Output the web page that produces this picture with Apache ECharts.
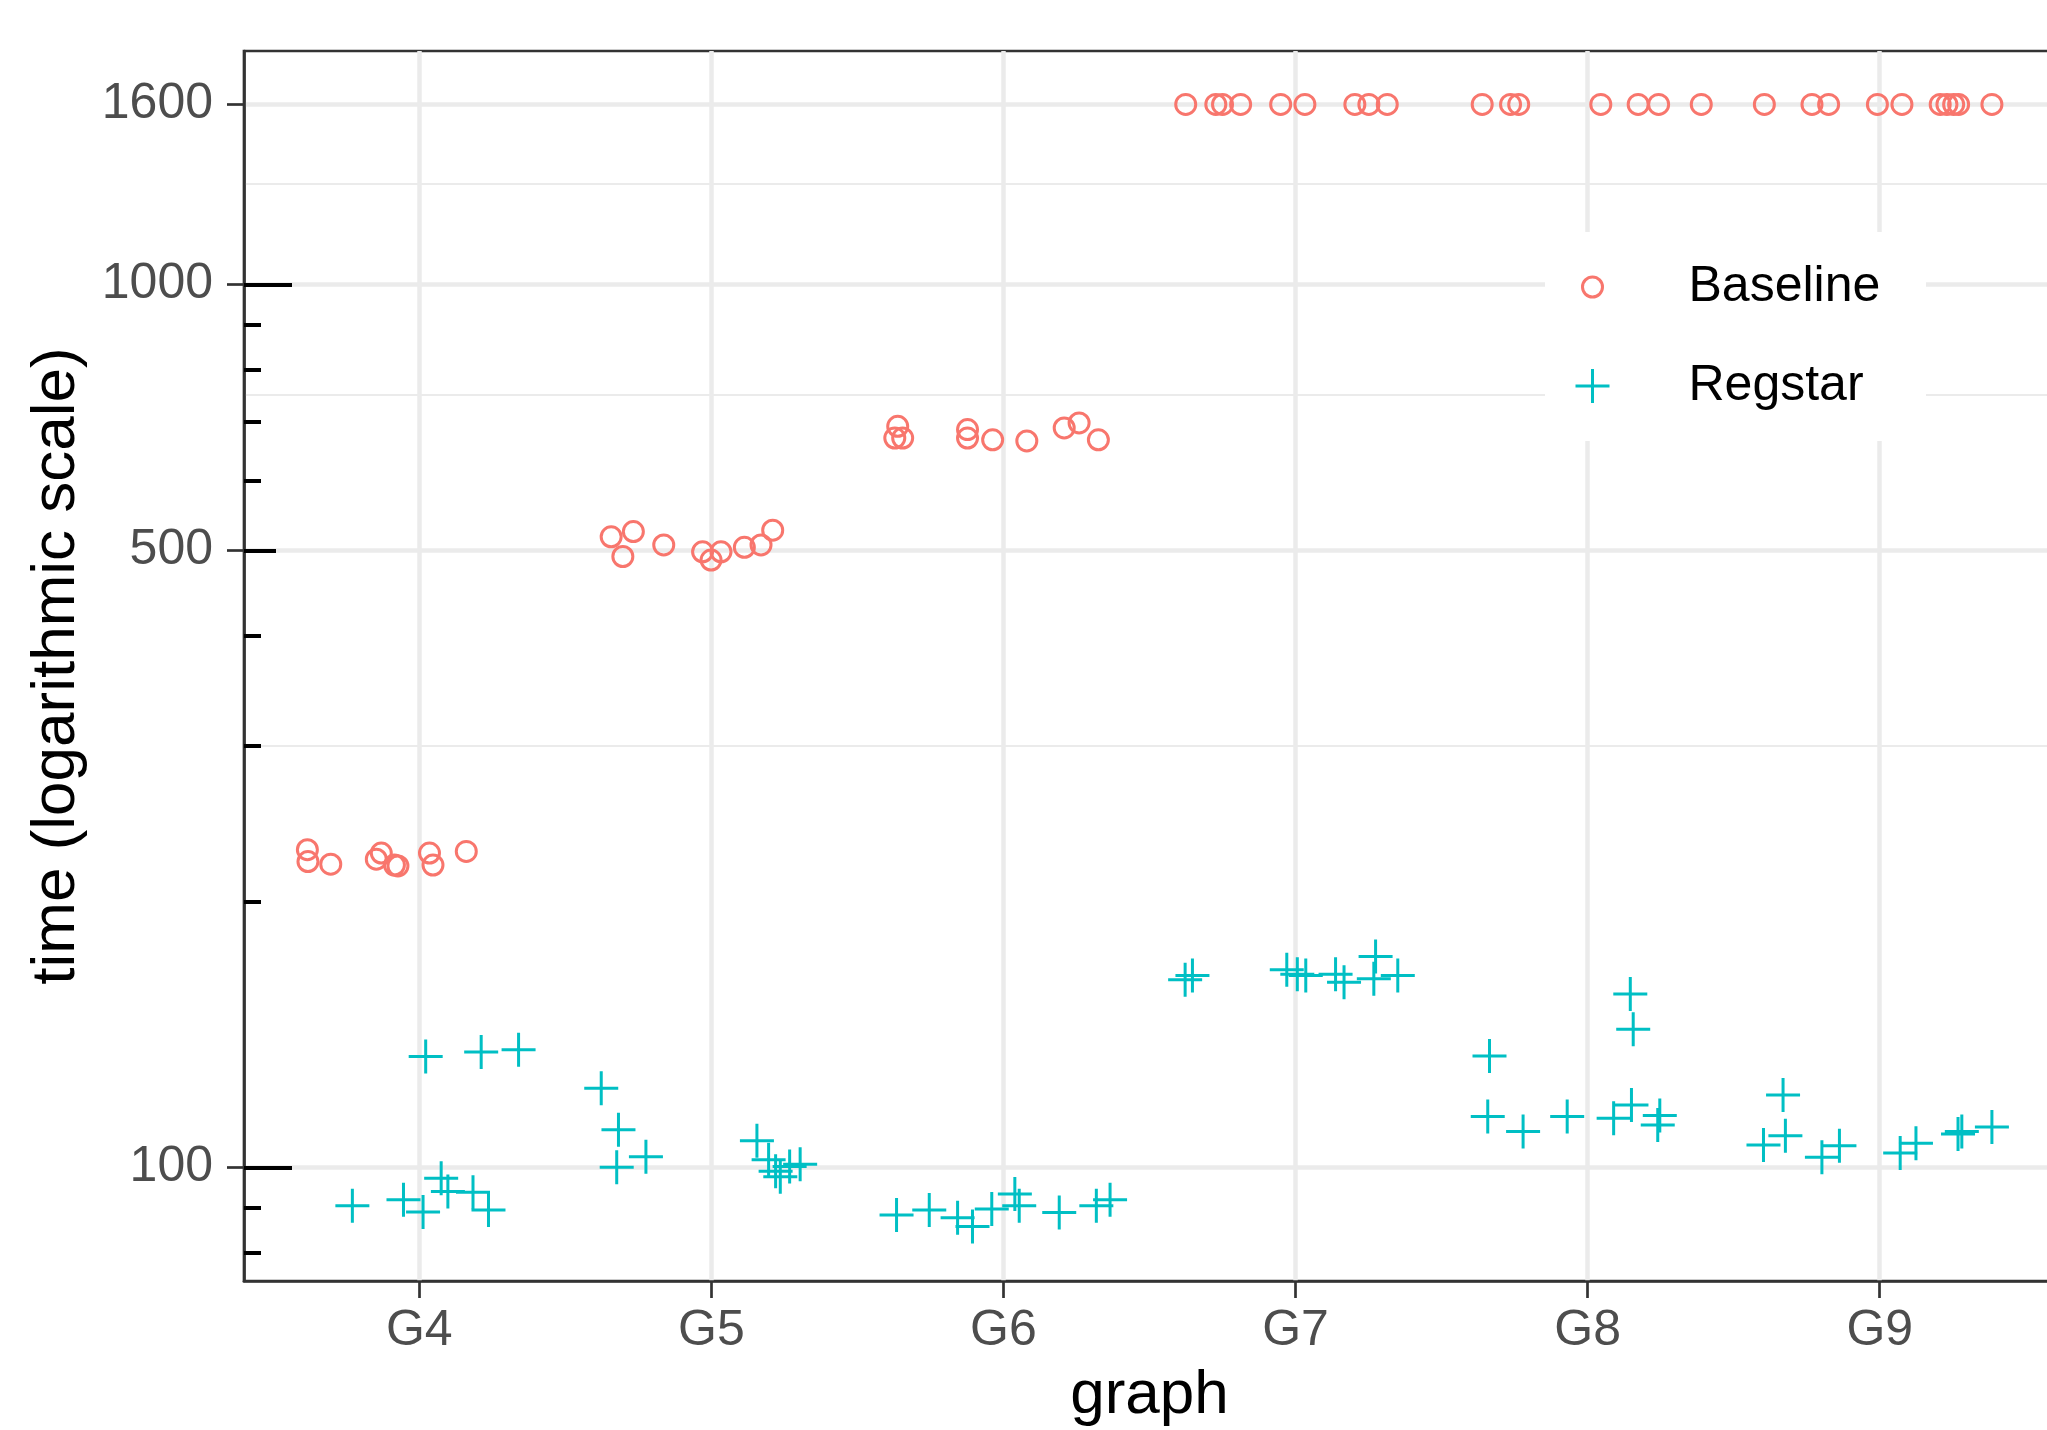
<!DOCTYPE html>
<html><head><meta charset="utf-8">
<script src="https://cdn.jsdelivr.net/npm/echarts@6/dist/echarts.min.js"></script>
<style>html,body{margin:0;padding:0;background:#fff}#c{width:2047px;height:1430px}</style>
</head><body><div id="c"></div>
<script>
const categories = ['G4','G5','G6','G7','G8','G9'];
const yTicks = [100, 500, 1000, 1600];
const minorBreaks = [300, 750, 1300];
const logTicksLong = [100, 1000];
const logTicksMid = [500];
const logTicksShort = [80, 90, 200, 300, 400, 600, 700, 800, 900];

const baselineGraph = [
  'G4','G4','G4','G4','G4','G4','G4','G4','G4','G4',
  'G5','G5','G5','G5','G5','G5','G5','G5','G5','G5',
  'G6','G6','G6','G6','G6','G6','G6','G6','G6','G6',
  'G7','G7','G7','G7','G7','G7','G7','G7','G7',
  'G8','G8','G8','G8','G8','G8','G8',
  'G9','G9','G9','G9','G9','G9','G9','G9','G9','G9'];
const baselineJitter = [
  -0.383,-0.381,-0.303,-0.130,-0.147,-0.085,-0.073,0.035,0.047,0.161,
  -0.343,-0.267,-0.303,-0.163,-0.030,-0.001,0.033,0.113,0.170,0.210,
  -0.362,-0.372,-0.345,-0.123,-0.123,-0.037,0.080,0.208,0.259,0.325,
  -0.376,-0.273,-0.250,-0.188,-0.051,0.032,0.203,0.251,0.314,
  -0.361,-0.264,-0.236,0.045,0.173,0.243,0.389,
  -0.395,-0.232,-0.175,-0.008,0.076,0.207,0.230,0.253,0.270,0.384];
const baselineTime = [
  229,222,220.5,227,223.4,220,219.5,227,220,228,
  518,525,492,507,498,487.5,498,504,507,527,
  691,670,670,685,670,667,665,688,697,667,
  1600,1600,1600,1600,1600,1600,1600,1600,1600,
  1600,1600,1600,1600,1600,1600,1600,
  1600,1600,1600,1600,1600,1600,1600,1600,1600,1600];

const regstarGraph = [
  'G4','G4','G4','G4','G4','G4','G4','G4','G4','G4',
  'G5','G5','G5','G5','G5','G5','G5','G5','G5','G5',
  'G6','G6','G6','G6','G6','G6','G6','G6','G6','G6',
  'G7','G7','G7','G7','G7','G7','G7','G7','G7','G7',
  'G8','G8','G8','G8','G8','G8','G8','G8','G8','G8',
  'G9','G9','G9','G9','G9','G9','G9','G9','G9','G9'];
const regstarJitter = [
  0.022,0.212,0.340,-0.229,-0.054,0.013,0.075,0.098,0.184,0.237,
  -0.377,-0.318,-0.324,-0.224,0.156,0.196,0.236,0.268,0.304,0.220,
  -0.366,-0.254,-0.157,-0.106,-0.040,0.039,0.054,0.191,0.318,0.365,
  -0.378,-0.353,-0.030,0.006,0.035,0.137,0.166,0.274,0.268,0.350,
  -0.336,-0.342,-0.221,-0.070,0.146,0.156,0.089,0.150,0.247,0.240,
  -0.331,-0.398,-0.323,-0.198,-0.138,0.070,0.124,0.268,0.281,0.384];
const regstarTime = [
  133.5,135.1,135.9,90.5,91.9,89.0,97.2,93.9,93.7,89.5,
  122.9,110.3,100.0,102.8,107.2,102.0,97.6,100.2,100.8,99.0,
  88.3,89.5,87.7,85.7,89.7,93.3,90.5,88.9,90.5,91.9,
  163.1,164.9,167.4,165.5,164.9,165.5,162.1,173.3,163.5,164.9,
  133.7,114.2,109.8,114.2,157.2,143.4,113.7,117.7,114.5,111.7,
  120.8,106.0,108.6,102.7,105.8,103.8,106.5,109.1,109.8,111.1];

const Y_MIN = 74.35, Y_MAX = 1839;
const FONT = '"Liberation Sans", Arial, Helvetica, sans-serif';
const BASE_COLOR = '#F8766D', REG_COLOR = '#00BFC4';
const PLUS = 'path://M0,-17L0,17M-17,0L17,0';

function pts(graph, jitter, time) {
  return time.map((t, i) => [categories.indexOf(graph[i]) + jitter[i], t]);
}

function logAxis(extra) {
  return Object.assign({
    type: 'log', logBase: 10, min: Y_MIN, max: Y_MAX, position: 'left',
    axisLine: {show: false, onZero: false},
    axisLabel: {show: false},
    axisTick: {show: false},
    splitLine: {show: false}
  }, extra);
}

const chart = echarts.init(document.getElementById('c'), null, {renderer: 'canvas'});
chart.setOption({
  animation: false,
  backgroundColor: '#ffffff',
  grid: {left: 244, top: 51, right: -8, bottom: 149, outerBoundsMode: 'none', containLabel: false,
         show: true, borderColor: '#333333', borderWidth: 2.7, backgroundColor: '#ffffff'},
  xAxis: {
    type: 'value', min: -0.6, max: 5.6,
    axisLine: {show: true, onZero: false, lineStyle: {color: '#333333', width: 2.7}},
    axisTick: {show: true, customValues: [0,1,2,3,4,5], length: 17, lineStyle: {color: '#333333', width: 2.7}},
    axisLabel: {customValues: [0,1,2,3,4,5], formatter: v => categories[Math.round(v)],
                fontSize: 50, color: '#4D4D4D', fontFamily: FONT, margin: 25},
    splitLine: {show: true, lineStyle: {color: '#EBEBEB', width: 4.5}},
    name: 'graph', nameLocation: 'middle', nameGap: 84,
    nameTextStyle: {fontSize: 62, color: '#000000', fontFamily: FONT}
  },
  yAxis: [
    logAxis({
      axisLine: {show: true, onZero: false, lineStyle: {color: '#333333', width: 2.7}},
      axisTick: {show: true, customValues: yTicks, length: 17, lineStyle: {color: '#333333', width: 2.7}},
      axisLabel: {show: true, customValues: yTicks, formatter: v => String(Math.round(v)),
                  fontSize: 50, color: '#4D4D4D', fontFamily: FONT, margin: 31},
      splitLine: {show: true, lineStyle: {color: '#EBEBEB', width: 4.5}},
      name: 'time (logarithmic scale)', nameLocation: 'middle', nameGap: 156,
      nameTextStyle: {fontSize: 62, color: '#000000', fontFamily: FONT}
    }),
    logAxis({axisTick: {show: false, customValues: minorBreaks},
             splitLine: {show: true, lineStyle: {color: '#EBEBEB', width: 2.2}}}),
    logAxis({axisTick: {show: true, inside: true, customValues: logTicksLong, length: 48,
             lineStyle: {color: '#000000', width: 4}}}),
    logAxis({axisTick: {show: true, inside: true, customValues: logTicksMid, length: 32,
             lineStyle: {color: '#000000', width: 4}}}),
    logAxis({axisTick: {show: true, inside: true, customValues: logTicksShort, length: 17,
             lineStyle: {color: '#000000', width: 4}}})
  ],
  graphic: [{type: 'rect', z: 1, silent: true, shape: {x: 1545, y: 232, width: 381, height: 209},
             style: {fill: '#ffffff'}}],
  legend: [
    {data: [{name: 'Baseline', icon: 'circle',
             itemStyle: {color: 'rgba(0,0,0,0)', borderColor: BASE_COLOR, borderWidth: 3}}],
     left: 1581, top: 262, padding: 0, itemWidth: 182, itemHeight: 20, orient: 'vertical',
     textStyle: {fontSize: 50, color: '#000000', fontFamily: FONT}, selectedMode: false},
    {data: [{name: 'Regstar', icon: PLUS,
             itemStyle: {color: 'rgba(0,0,0,0)', borderColor: REG_COLOR, borderWidth: 3}}],
     left: 1574, top: 361, padding: 0, itemWidth: 182, itemHeight: 34, orient: 'vertical',
     textStyle: {fontSize: 50, color: '#000000', fontFamily: FONT}, selectedMode: false}
  ],
  series: [
    {name: 'Baseline', type: 'scatter', symbol: 'circle', symbolSize: 20,
     itemStyle: {color: 'rgba(0,0,0,0)', borderColor: BASE_COLOR, borderWidth: 3, opacity: 1},
     data: pts(baselineGraph, baselineJitter, baselineTime)},
    {name: 'Regstar', type: 'scatter', symbol: PLUS, symbolSize: 34,
     itemStyle: {color: 'rgba(0,0,0,0)', borderColor: REG_COLOR, borderWidth: 3, opacity: 1},
     data: pts(regstarGraph, regstarJitter, regstarTime)}
  ]
});
</script>
</body></html>
